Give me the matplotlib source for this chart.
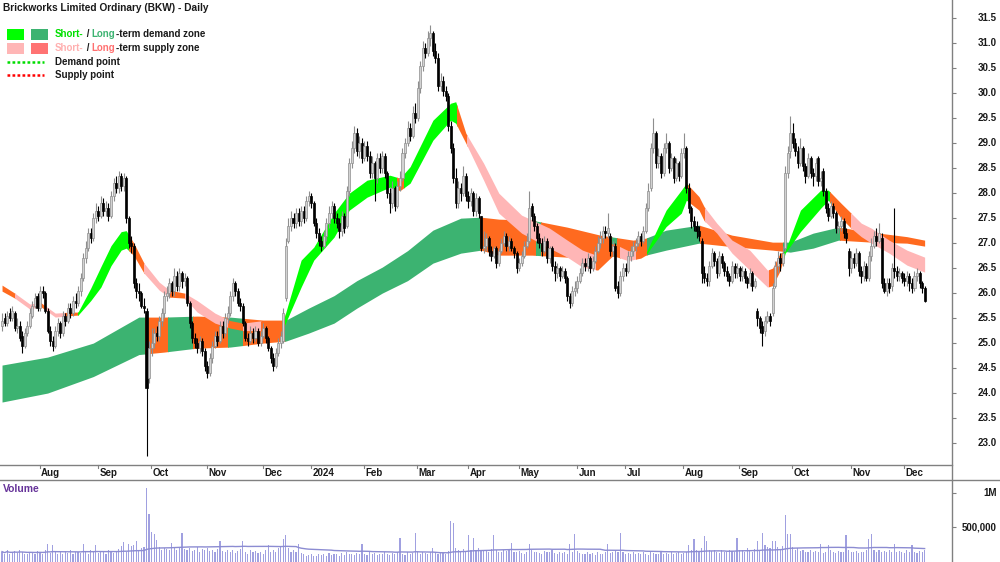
import numpy as np
import pandas as pd
import matplotlib
matplotlib.use("Agg")
import matplotlib.pyplot as plt
from matplotlib import transforms
from matplotlib.patches import Rectangle
from matplotlib.lines import Line2D

plt.rcParams['font.family'] = ['Liberation Sans', 'DejaVu Sans']

# ---------------- data ----------------
title = "Brickworks Limited Ordinary (BKW) - Daily"
start_date = "2023-07-11"
asx_holidays = ["2023-12-25", "2023-12-26", "2024-01-01", "2024-01-26",
                "2024-03-29", "2024-04-01", "2024-04-25", "2024-06-10"]

opens = [
    25.35, 25.50, 25.40, 25.60, 25.50, 25.60, 25.30, 25.35, 25.15, 24.95,
    25.20, 25.35, 25.55, 25.75, 25.95, 25.70, 26.05, 26.00, 25.65, 25.25,
    25.05, 24.95, 25.25, 25.40, 25.20, 25.55, 25.45, 25.70, 25.60, 25.85,
    25.80, 26.05, 26.30, 26.70, 26.90, 27.20, 27.10, 27.50, 27.65, 27.55,
    27.80, 27.65, 27.70, 27.55, 27.95, 28.20, 28.10, 28.35, 28.15, 28.30,
    27.50, 27.00, 26.95, 26.20, 26.05, 26.00, 25.75, 25.65, 24.30, 24.90,
    25.00, 25.20, 25.15, 25.45, 25.60, 25.95, 26.00, 26.20, 26.05, 26.35,
    26.15, 26.40, 26.25, 26.30, 25.80, 25.40, 25.10, 25.00, 24.90, 25.05,
    24.85, 24.55, 24.40, 24.70, 24.95, 25.15, 25.05, 25.35, 25.20, 25.50,
    25.60, 25.95, 26.20, 26.05, 25.80, 25.75, 25.40, 25.10, 25.05, 25.20,
    25.10, 25.25, 25.00, 25.15, 25.30, 25.10, 24.90, 24.70, 24.55, 24.80,
    25.00, 25.05, 25.90, 27.05, 27.35, 27.50, 27.40, 27.60, 27.45, 27.65,
    27.50, 27.85, 27.95, 27.80, 27.40, 27.20, 27.05, 26.95, 27.15, 27.40,
    27.60, 27.75, 27.50, 27.40, 27.25, 27.55, 27.35, 28.05, 28.60, 28.90,
    29.20, 28.85, 29.00, 28.70, 28.95, 28.75, 28.40, 28.60, 28.30, 28.70,
    28.50, 28.75, 28.40, 28.00, 27.80, 28.10, 27.75, 28.15, 28.30, 28.80,
    29.00, 29.30, 29.15, 29.60, 29.50, 30.10, 30.55, 30.90, 30.80, 31.10,
    31.20, 30.85, 30.70, 30.15, 30.25, 30.05, 29.95, 29.35, 28.90, 28.30,
    27.80, 28.10, 28.00, 28.35, 27.95, 27.85, 28.00, 27.65, 27.90, 27.55,
    26.90, 26.95, 27.10, 26.85, 26.75, 26.90, 26.60, 26.85, 27.00, 27.15,
    26.95, 27.05, 26.90, 26.80, 26.50, 26.60, 26.75, 26.95, 27.05, 27.75,
    27.55, 27.35, 27.10, 27.00, 26.85, 27.05, 26.70, 26.90, 26.55, 26.40,
    26.50, 26.35, 26.45, 26.30, 25.95, 25.80, 26.05, 26.10, 26.25, 26.40,
    26.60, 26.55, 26.70, 26.50, 26.65, 26.85, 27.00, 27.10, 27.25, 27.20,
    27.15, 26.85, 26.95, 26.15, 26.00, 26.35, 26.50, 26.45, 26.75, 26.85,
    26.95, 27.00, 27.15, 27.05, 27.25, 27.70, 28.10, 28.90, 29.20, 28.60,
    28.75, 28.40, 28.90, 29.00, 28.50, 28.70, 28.30, 28.60, 28.35, 28.80,
    28.90, 28.10, 27.70, 27.45, 27.35, 27.25, 27.05, 26.40, 26.30, 26.25,
    26.55, 26.80, 26.65, 26.40, 26.75, 26.60, 26.45, 26.35, 26.25, 26.55,
    26.40, 26.50, 26.35, 26.45, 26.30, 26.20, 26.40, 26.15, 25.65, 25.50,
    25.35, 25.25, 25.45, 25.55, 25.60, 26.15, 26.55, 26.70, 26.60, 26.90,
    28.40, 28.85, 29.20, 29.00, 28.85, 28.60, 28.90, 28.55, 28.35, 28.70,
    28.40, 28.35, 28.70, 28.25, 28.45, 28.05, 27.70, 27.55, 27.75, 27.60,
    27.30, 27.35, 27.45, 27.20, 26.85, 26.50, 26.70, 26.60, 26.80, 26.45,
    26.35, 26.55, 26.30, 26.75, 26.95, 27.15, 27.05, 27.10, 26.20, 26.05,
    26.20, 26.15, 26.50, 26.45, 26.35, 26.40, 26.30, 26.25, 26.35, 26.20,
    26.10, 26.35, 26.40, 26.20, 26.10,
]
highs = [
    25.60, 25.60, 25.65, 25.70, 25.75, 25.65, 25.50, 25.45, 25.25, 25.30,
    25.45, 25.70, 25.85, 26.00, 26.00, 26.15, 26.15, 26.05, 25.70, 25.35,
    25.15, 25.35, 25.50, 25.45, 25.65, 25.60, 25.80, 25.80, 25.95, 26.00,
    26.15, 26.40, 26.80, 27.05, 27.30, 27.30, 27.60, 27.80, 27.75, 27.95,
    27.90, 27.85, 27.80, 28.05, 28.30, 28.35, 28.45, 28.40, 28.40, 28.35,
    27.55, 27.15, 27.00, 26.30, 26.20, 26.05, 25.90, 25.70, 25.05, 25.30,
    25.30, 25.35, 25.55, 25.70, 26.05, 26.15, 26.30, 26.25, 26.50, 26.45,
    26.50, 26.45, 26.40, 26.35, 25.85, 25.45, 25.20, 25.10, 25.15, 25.10,
    24.90, 24.65, 24.80, 25.05, 25.25, 25.25, 25.45, 25.45, 25.60, 25.75,
    26.05, 26.30, 26.25, 26.10, 25.90, 25.80, 25.45, 25.20, 25.35, 25.30,
    25.35, 25.30, 25.25, 25.40, 25.35, 25.15, 24.95, 24.80, 24.90, 25.10,
    25.25, 25.70, 27.10, 27.50, 27.65, 27.60, 27.70, 27.70, 27.75, 27.75,
    27.95, 28.05, 28.00, 27.85, 27.50, 27.30, 27.15, 27.25, 27.50, 27.75,
    27.85, 27.80, 27.60, 27.50, 27.65, 27.60, 28.15, 28.70, 29.05, 29.35,
    29.30, 29.15, 29.10, 29.05, 29.05, 28.85, 28.75, 28.65, 28.80, 28.80,
    28.85, 28.80, 28.45, 28.10, 28.25, 28.15, 28.25, 28.45, 28.90, 29.10,
    29.45, 29.40, 29.75, 29.80, 30.25, 30.65, 31.05, 31.00, 31.25, 31.37,
    31.25, 31.00, 30.80, 30.40, 30.35, 30.15, 30.00, 29.45, 29.00, 28.50,
    28.25, 28.20, 28.55, 28.40, 28.05, 28.10, 28.05, 28.00, 27.95, 27.55,
    27.25, 27.20, 27.15, 26.95, 26.95, 26.95, 26.90, 27.10, 27.25, 27.20,
    27.15, 27.10, 26.95, 26.85, 26.70, 26.85, 27.05, 27.20, 28.05, 27.80,
    27.60, 27.40, 27.20, 27.10, 27.15, 27.10, 26.95, 26.95, 26.65, 26.60,
    26.55, 26.55, 26.50, 26.35, 26.00, 26.15, 26.25, 26.35, 26.50, 26.70,
    26.70, 26.80, 26.75, 26.75, 26.95, 27.15, 27.25, 27.35, 27.35, 27.60,
    27.20, 27.05, 27.00, 26.25, 26.45, 26.60, 26.60, 26.85, 26.95, 27.05,
    27.10, 27.25, 27.20, 27.35, 27.80, 28.20, 29.00, 29.50, 29.25, 28.90,
    28.80, 29.00, 29.20, 29.05, 28.80, 28.75, 28.70, 28.65, 28.90, 29.20,
    28.95, 28.20, 27.75, 27.55, 27.45, 27.35, 27.10, 26.55, 26.40, 26.65,
    26.90, 26.85, 26.70, 26.85, 26.80, 26.65, 26.55, 26.40, 26.65, 26.60,
    26.60, 26.55, 26.55, 26.50, 26.35, 26.50, 26.45, 26.30, 25.70, 25.55,
    25.45, 25.55, 25.65, 25.60, 26.20, 26.65, 26.85, 26.80, 26.95, 28.55,
    28.95, 29.55, 29.40, 29.10, 28.95, 29.10, 28.95, 28.60, 28.80, 28.75,
    28.50, 28.70, 28.75, 28.45, 28.50, 28.10, 27.80, 27.85, 27.80, 27.65,
    27.45, 27.55, 27.50, 27.30, 26.90, 26.85, 26.80, 26.90, 26.85, 26.55,
    26.65, 26.60, 26.85, 27.10, 27.25, 27.30, 27.40, 27.20, 26.30, 26.30,
    26.30, 26.60, 27.70, 26.55, 26.50, 26.45, 26.40, 26.45, 26.40, 26.30,
    26.45, 26.50, 26.45, 26.25, 26.15,
]
lows = [
    25.25, 25.35, 25.35, 25.45, 25.45, 25.25, 25.20, 25.05, 24.80, 24.90,
    25.15, 25.30, 25.50, 25.70, 25.65, 25.65, 25.90, 25.60, 25.20, 24.95,
    24.85, 24.90, 25.15, 25.10, 25.15, 25.35, 25.40, 25.50, 25.55, 25.70,
    25.75, 25.95, 26.25, 26.60, 26.85, 27.00, 27.05, 27.40, 27.45, 27.50,
    27.55, 27.55, 27.45, 27.50, 27.85, 28.00, 28.00, 28.05, 28.05, 27.40,
    26.90, 26.80, 26.10, 25.90, 25.85, 25.70, 25.60, 22.75, 24.20, 24.75,
    24.90, 25.05, 25.05, 25.35, 25.50, 25.85, 25.90, 25.95, 25.95, 26.05,
    26.05, 26.10, 26.15, 25.75, 25.30, 25.00, 24.90, 24.80, 24.80, 24.75,
    24.45, 24.30, 24.35, 24.60, 24.90, 24.95, 25.00, 25.10, 25.15, 25.40,
    25.55, 25.85, 25.95, 25.75, 25.65, 25.35, 25.05, 24.95, 25.00, 25.00,
    25.05, 24.95, 24.95, 25.10, 25.00, 24.85, 24.60, 24.45, 24.50, 24.75,
    24.90, 25.00, 25.85, 27.00, 27.25, 27.30, 27.30, 27.35, 27.35, 27.40,
    27.45, 27.75, 27.70, 27.35, 27.10, 26.95, 26.85, 26.90, 27.05, 27.30,
    27.50, 27.40, 27.30, 27.10, 27.15, 27.20, 27.30, 27.95, 28.50, 28.80,
    28.75, 28.70, 28.60, 28.65, 28.65, 28.30, 28.30, 27.85, 28.20, 28.40,
    28.40, 28.30, 27.90, 27.60, 27.70, 27.65, 27.70, 28.05, 28.25, 28.70,
    28.95, 29.05, 29.10, 29.40, 29.45, 30.00, 30.45, 30.70, 30.75, 30.95,
    30.75, 30.60, 30.05, 30.05, 29.95, 29.85, 29.25, 28.80, 28.20, 27.70,
    27.70, 27.85, 27.95, 27.85, 27.70, 27.75, 27.55, 27.55, 27.50, 26.85,
    26.80, 26.85, 26.75, 26.65, 26.70, 26.50, 26.55, 26.80, 26.95, 26.85,
    26.85, 26.85, 26.70, 26.40, 26.45, 26.55, 26.70, 26.90, 27.00, 27.45,
    27.25, 27.00, 26.90, 26.75, 26.80, 26.60, 26.60, 26.45, 26.25, 26.30,
    26.25, 26.30, 26.20, 25.85, 25.70, 25.75, 25.95, 26.00, 26.20, 26.35,
    26.45, 26.45, 26.40, 26.45, 26.60, 26.80, 26.90, 27.00, 27.10, 27.10,
    26.75, 26.75, 26.05, 25.90, 25.95, 26.25, 26.35, 26.40, 26.65, 26.75,
    26.85, 26.95, 26.95, 27.00, 27.20, 27.65, 28.05, 28.80, 28.50, 28.50,
    28.30, 28.35, 28.80, 28.40, 28.45, 28.20, 28.25, 28.25, 28.30, 28.70,
    28.00, 27.60, 27.30, 27.25, 27.10, 27.05, 26.20, 26.20, 26.15, 26.15,
    26.50, 26.55, 26.30, 26.35, 26.50, 26.35, 26.25, 26.15, 26.20, 26.30,
    26.30, 26.25, 26.25, 26.20, 26.10, 26.15, 26.05, 26.10, 25.35, 25.20,
    24.95, 25.15, 25.40, 25.35, 25.55, 26.10, 26.40, 26.45, 26.55, 26.85,
    28.30, 28.70, 28.90, 28.75, 28.50, 28.55, 28.45, 28.20, 28.30, 28.30,
    28.15, 28.25, 28.15, 28.15, 27.95, 27.60, 27.45, 27.50, 27.50, 27.20,
    27.20, 27.25, 27.10, 27.00, 26.35, 26.40, 26.50, 26.55, 26.35, 26.20,
    26.25, 26.25, 26.25, 26.65, 26.90, 26.95, 27.00, 26.10, 26.00, 25.95,
    26.00, 26.05, 26.30, 26.25, 26.25, 26.20, 26.15, 26.15, 26.05, 26.00,
    26.05, 26.25, 26.10, 26.00, 25.82,
]
closes = [
    25.45, 25.40, 25.55, 25.50, 25.65, 25.30, 25.35, 25.10, 24.95, 25.20,
    25.35, 25.60, 25.75, 25.90, 25.70, 26.05, 26.00, 25.65, 25.25, 25.05,
    24.95, 25.25, 25.40, 25.20, 25.55, 25.45, 25.70, 25.60, 25.85, 25.80,
    26.05, 26.30, 26.70, 26.90, 27.20, 27.10, 27.50, 27.65, 27.55, 27.80,
    27.65, 27.70, 27.55, 27.95, 28.20, 28.10, 28.35, 28.15, 28.30, 27.50,
    27.00, 26.95, 26.20, 26.05, 26.00, 25.75, 25.70, 24.10, 24.90, 25.00,
    25.20, 25.15, 25.45, 25.60, 25.95, 26.00, 26.20, 26.05, 26.35, 26.15,
    26.40, 26.25, 26.30, 25.80, 25.40, 25.10, 25.00, 24.90, 25.05, 24.85,
    24.55, 24.40, 24.70, 24.95, 25.15, 25.05, 25.35, 25.20, 25.50, 25.60,
    25.95, 26.20, 26.05, 25.80, 25.75, 25.40, 25.10, 25.05, 25.20, 25.10,
    25.25, 25.00, 25.15, 25.30, 25.10, 24.90, 24.70, 24.55, 24.80, 25.00,
    25.15, 25.60, 26.95, 27.35, 27.50, 27.40, 27.60, 27.45, 27.65, 27.50,
    27.85, 27.95, 27.80, 27.40, 27.20, 27.05, 26.95, 27.15, 27.40, 27.60,
    27.75, 27.50, 27.40, 27.25, 27.55, 27.30, 28.05, 28.60, 28.90, 29.20,
    28.85, 29.00, 28.70, 28.95, 28.75, 28.40, 28.60, 28.30, 28.70, 28.50,
    28.75, 28.40, 28.00, 27.80, 28.10, 27.75, 28.15, 28.30, 28.80, 29.00,
    29.30, 29.15, 29.60, 29.50, 30.10, 30.55, 30.90, 30.80, 31.10, 31.20,
    30.85, 30.70, 30.15, 30.25, 30.05, 29.95, 29.35, 28.90, 28.30, 27.80,
    28.10, 28.00, 28.35, 27.95, 27.85, 28.00, 27.65, 27.90, 27.60, 26.90,
    26.95, 27.10, 26.85, 26.75, 26.90, 26.60, 26.85, 27.00, 27.15, 26.95,
    27.05, 26.90, 26.80, 26.50, 26.60, 26.75, 26.95, 27.05, 27.70, 27.55,
    27.35, 27.10, 27.00, 26.85, 27.05, 26.70, 26.90, 26.55, 26.40, 26.50,
    26.35, 26.45, 26.30, 25.95, 25.80, 26.05, 26.10, 26.25, 26.40, 26.60,
    26.55, 26.70, 26.50, 26.65, 26.85, 27.00, 27.10, 27.25, 27.20, 27.30,
    26.85, 26.95, 26.10, 26.00, 26.35, 26.50, 26.45, 26.75, 26.85, 26.95,
    27.00, 27.15, 27.05, 27.25, 27.70, 28.05, 28.90, 29.20, 28.60, 28.75,
    28.40, 28.90, 29.00, 28.50, 28.70, 28.30, 28.60, 28.35, 28.80, 28.90,
    28.10, 27.70, 27.45, 27.35, 27.25, 27.15, 26.40, 26.30, 26.25, 26.55,
    26.80, 26.65, 26.40, 26.75, 26.60, 26.45, 26.35, 26.25, 26.55, 26.40,
    26.50, 26.35, 26.45, 26.30, 26.20, 26.40, 26.15, 26.25, 25.50, 25.30,
    25.20, 25.45, 25.55, 25.45, 26.10, 26.55, 26.70, 26.60, 26.80, 28.40,
    28.80, 29.20, 29.00, 28.85, 28.60, 28.90, 28.55, 28.35, 28.70, 28.40,
    28.35, 28.60, 28.25, 28.30, 28.05, 27.70, 27.55, 27.75, 27.60, 27.30,
    27.35, 27.45, 27.20, 27.10, 26.50, 26.70, 26.60, 26.80, 26.45, 26.35,
    26.55, 26.30, 26.75, 26.95, 27.15, 27.05, 27.20, 26.20, 26.05, 26.20,
    26.10, 26.50, 26.45, 26.35, 26.40, 26.30, 26.25, 26.35, 26.20, 26.10,
    26.35, 26.40, 26.20, 26.10, 25.85,
]
volume_k = [
    150, 120, 180, 110, 140, 160, 130, 170, 140, 120,
    110, 150, 130, 120, 160, 140, 120, 180, 260, 130,
    240, 150, 120, 140, 110, 160, 130, 170, 120, 140,
    150, 130, 260, 140, 120, 170, 150, 240, 130, 160,
    140, 120, 180, 150, 130, 160, 190, 230, 293, 150,
    260, 230, 250, 300, 180, 200, 220, 1070, 700, 440,
    400, 320, 210, 180, 200, 190, 170, 270, 200, 180,
    210, 418, 190, 170, 200, 160, 180, 210, 150, 190,
    170, 200, 160, 180, 150, 190, 300, 160, 140, 180,
    150, 170, 130, 160, 190, 300, 150, 120, 170, 140,
    160, 130, 150, 110, 170, 250, 140, 180, 150, 200,
    230, 332, 390, 200, 150, 170, 140, 260, 130, 110,
    90, 100, 120, 80, 90, 110, 100, 120, 90, 130,
    100, 120, 110, 90, 130, 100, 140, 120, 110, 100,
    130, 110, 260, 120, 100, 140, 110, 130, 100, 120,
    110, 140, 120, 100, 130, 110, 150, 340, 120, 100,
    140, 120, 130, 418, 150, 120, 140, 130, 110, 150,
    200, 140, 120, 150, 130, 110, 160, 597, 560, 200,
    170, 150, 190, 140, 390, 180, 340, 160, 200, 170,
    180, 160, 150, 190, 390, 170, 150, 140, 180, 160,
    170, 270, 150, 140, 160, 130, 120, 150, 260, 170,
    150, 140, 130, 120, 160, 140, 150, 170, 130, 120,
    140, 130, 150, 120, 260, 140, 400, 160, 130, 120,
    110, 140, 120, 130, 100, 150, 120, 110, 140, 260,
    130, 150, 170, 140, 420, 150, 120, 130, 110, 140,
    120, 130, 110, 140, 120, 100, 150, 130, 120, 110,
    140, 120, 130, 110, 150, 120, 130, 140, 110, 130,
    150, 250, 170, 330, 180, 160, 200, 370, 300, 170,
    160, 180, 150, 130, 170, 150, 140, 180, 160, 150,
    340, 170, 180, 140, 200, 160, 150, 190, 300, 180,
    420, 240, 220, 200, 300, 300, 210, 180, 230, 680,
    400, 400, 220, 180, 200, 160, 170, 150, 140, 170,
    150, 160, 140, 260, 130, 150, 240, 170, 140, 130,
    160, 150, 140, 390, 170, 140, 150, 160, 130, 150,
    140, 170, 330, 400, 180, 150, 170, 140, 160, 150,
    170, 150, 260, 140, 160, 150, 130, 170, 140, 240,
    150, 130, 160, 140, 170,
]

# short-term zone (knots: bar index, upper, lower)
st_idx = [0, 5, 11, 15, 21, 27, 30, 35, 39, 43, 47, 49, 52, 56, 62, 66, 72, 77, 84,
          90, 95, 103, 111, 118, 123, 131, 137, 144, 153, 157, 161, 170, 177, 179,
          183, 190, 196, 205, 216, 223, 229, 235, 241, 247, 252, 254, 262, 268,
          270, 275, 277, 282, 288, 295, 302, 304, 307, 309, 315, 323, 326, 331,
          335, 339, 343, 350, 357, 364]
st_upper = [26.16, 26.00, 25.78, 25.82, 25.60, 25.62, 25.62, 26.10, 26.53, 26.95,
            27.23, 27.25, 27.00, 26.60, 26.22, 26.06, 26.00, 25.85, 25.60, 25.45,
            25.40, 25.45, 25.45, 26.66, 26.92, 27.60, 28.00, 28.26, 28.36, 28.30,
            28.53, 29.46, 29.80, 29.83, 29.20, 28.60, 28.00, 27.56, 27.30, 27.06,
            26.86, 26.75, 27.00, 26.85, 26.85, 26.80, 27.66, 28.06, 28.20, 27.93,
            27.73, 27.40, 27.06, 26.86, 26.46, 26.50, 26.80, 26.85, 27.66, 28.06,
            28.06, 27.80, 27.60, 27.40, 27.30, 27.06, 26.86, 26.72]
st_lower = [26.04, 25.90, 25.68, 25.74, 25.52, 25.55, 25.56, 25.85, 26.12, 26.55,
            26.86, 26.90, 26.75, 26.40, 26.06, 25.92, 25.90, 25.62, 25.40, 25.30,
            25.25, 25.25, 25.30, 26.12, 26.66, 27.12, 27.66, 27.92, 28.12, 28.05,
            28.20, 29.06, 29.46, 29.40, 29.00, 28.26, 27.60, 27.20, 26.90, 26.72,
            26.52, 26.46, 26.75, 26.65, 26.70, 26.76, 27.33, 27.60, 27.86, 27.66,
            27.45, 27.20, 26.80, 26.46, 26.12, 26.15, 26.45, 26.80, 27.23, 27.70,
            27.86, 27.50, 27.30, 27.13, 27.00, 26.80, 26.56, 26.42]
st_zone_start = [-1, 5, 13, 17.5, 25, 30, 50, 56, 66, 72, 89, 95, 102, 111.5, 156,
                 158.5, 179.5, 183.5, 234.5, 244, 250, 254.5, 270.5, 277.5, 302.5,
                 308.5, 326.5, 335]
st_zone_kind = ["turn", "supply", "turn", "supply", "turn", "demand", "turn", "supply",
                "turn", "supply", "turn", "supply", "turn", "demand", "turn", "demand",
                "turn", "supply", "turn", "supply", "turn", "demand", "turn", "supply",
                "turn", "demand", "turn", "supply"]

# long-term zone
lt_idx = [0, 18, 36, 54, 64, 77, 90, 103, 112, 121, 131, 140, 150, 160, 170, 181,
          189, 196, 209, 223, 236, 249, 254, 262, 275, 288, 304, 311, 320, 330,
          343, 357, 364]
lt_upper = [24.56, 24.72, 25.00, 25.52, 25.52, 25.54, 25.52, 25.46, 25.46, 25.70,
            25.95, 26.25, 26.52, 26.85, 27.26, 27.50, 27.52, 27.48, 27.46, 27.32,
            27.16, 27.06, 27.10, 27.26, 27.36, 27.16, 27.02, 27.02, 27.20, 27.32,
            27.22, 27.13, 27.06]
lt_lower = [23.82, 24.00, 24.33, 24.77, 24.82, 24.90, 24.92, 25.00, 25.04, 25.20,
            25.40, 25.70, 26.00, 26.25, 26.60, 26.80, 26.86, 26.76, 26.76, 26.72,
            26.74, 26.74, 26.76, 26.86, 27.00, 26.93, 26.86, 26.82, 26.90, 27.06,
            27.02, 27.00, 26.94]
lt_zone_start = [-1, 56.5, 65.5, 75.5, 89, 95, 111.5, 188.5, 210.5, 212.5, 240.5,
                 242.5, 254.5, 275.5, 308, 330.5]
lt_zone_kind = ["demand", "supply", "demand", "supply", "demand", "supply", "demand",
                "supply", "demand", "supply", "demand", "supply", "demand", "supply",
                "demand", "supply"]

price_ticks = [23.0, 23.5, 24.0, 24.5, 25.0, 25.5, 26.0, 26.5, 27.0, 27.5,
               28.0, 28.5, 29.0, 29.5, 30.0, 30.5, 31.0, 31.5]
vol_ticks = [500000, 1000000]
vol_tick_labels = ["500,000", "1M"]

# ---------------- styling ----------------
W, H = 1000, 562
C_ST = {"demand": "#00FF00", "supply": "#FFB6B6", "turn": "#FF6A1F"}
C_LT = {"demand": "#3CB371", "supply": "#FF6A1F"}
GRID = "#808080"
TXT = "#1A1A1A"

dates = pd.bdate_range(start_date, periods=len(closes), freq="C",
                       holidays=asx_holidays)
o = np.array(opens); h = np.array(highs); l = np.array(lows); c = np.array(closes)
v = np.array(volume_k) * 1000.0
x = np.arange(len(c))

fig = plt.figure(figsize=(W / 100, H / 100), dpi=100)
ax = fig.add_axes([0, 1 - 465 / H, 952 / W, 465 / H])
axv = fig.add_axes([0, 0, 952 / W, 82 / H])

xlim = (-0.8, 374.8)
for a in (ax, axv):
    a.set_xlim(*xlim)
    for s in a.spines.values():
        s.set_visible(False)
    a.set_xticks([])
    a.tick_params(axis="y", left=False, right=True, direction="out", length=3,
                  color=GRID, labelleft=False, labelright=False)
ax.set_ylim(22.56, 31.866)
axv.set_ylim(0, 1.185e6)
ax.set_yticks(price_ticks)
axv.set_yticks(vol_ticks)


def draw_zone(knots, up, lo, starts, kinds, cmap, z):
    ends = list(starts[1:]) + [xlim[1] + 1]
    for s0, s1, k in zip(starts, ends, kinds):
        poly = ax.fill_between(knots, lo, up, color=cmap[k], lw=0, zorder=z)
        clip = Rectangle((s0, 0), s1 - s0, 100, transform=ax.transData)
        poly.set_clip_path(clip)


draw_zone(lt_idx, lt_upper, lt_lower, lt_zone_start, lt_zone_kind, C_LT, 1)
draw_zone(st_idx, st_upper, st_lower, st_zone_start, st_zone_kind, C_ST, 2)

# candles
up = c >= o
wick_col = np.where(up, "#8E8E8E", "#000000")
face_col = np.where(up, "#D2D2D2", "#000000")
ax.vlines(x, l, h, colors=wick_col, lw=0.8, zorder=3)
body_lo = np.minimum(o, c)
body_h = np.maximum(np.abs(c - o), 0.025)
ax.bar(x, body_h, bottom=body_lo, width=0.8, color=face_col,
       edgecolor=wick_col, lw=0.5, zorder=4)

# volume
axv.bar(x, v, width=0.45, color="#A0A0E0", lw=0, zorder=2)
vol_ma = pd.Series(v).rolling(60, min_periods=1).mean()
axv.plot(x, vol_ma, color="#8C8CD2", lw=1.0, zorder=3)

# frame lines
fig.add_artist(Line2D([952 / W, 952 / W], [0, 1], transform=fig.transFigure,
                      color=GRID, lw=1))
fig.add_artist(Line2D([0, 952 / W], [1 - 465 / H] * 2, transform=fig.transFigure,
                      color=GRID, lw=1))
fig.add_artist(Line2D([0, 1], [1 - 480 / H] * 2, transform=fig.transFigure,
                      color=GRID, lw=1))

# right tick labels
tr_p = transforms.blended_transform_factory(fig.transFigure, ax.transData)
for p in price_ticks:
    fig.text(0.997, p, f"{p:.1f}", transform=tr_p, ha="right", va="center",
             fontsize=7, weight="bold", color=TXT)
tr_v = transforms.blended_transform_factory(fig.transFigure, axv.transData)
for val, lab in zip(vol_ticks, vol_tick_labels):
    fig.text(0.997, val, lab, transform=tr_v, ha="right", va="center",
             fontsize=7, weight="bold", color=TXT)

# month labels in the date strip
tr_m = transforms.blended_transform_factory(ax.transData, fig.transFigure)
for i in range(1, len(dates)):
    if dates[i].month != dates[i - 1].month:
        lab = str(dates[i].year) if dates[i].month == 1 else dates[i].strftime("%b")
        fig.add_artist(Line2D([i - 0.2, i - 0.2], [1 - 465 / H, 1 - 468 / H],
                              transform=tr_m, color=GRID, lw=0.8))
        fig.text(i + 0.4, 1 - 473.5 / H, lab, transform=tr_m, ha="left",
                 va="center", fontsize=7, weight="bold", color=TXT)

# title and legend
fig.text(3 / W, 1 - 8 / H, title, ha="left", va="center", fontsize=7.3,
         weight="bold", color=TXT)

fig.canvas.draw()
renderer = fig.canvas.get_renderer()


def multi_text(x0, y0, parts):
    xp = x0
    for s, col in parts:
        t = fig.text(xp / W, 1 - y0 / H, s, ha="left", va="center", fontsize=7,
                     weight="bold", color=col)
        bb = t.get_window_extent(renderer)
        xp += bb.width


def swatch(x0, y0, col):
    fig.add_artist(Rectangle((x0 / W, 1 - (y0 + 5.5) / H), 17 / W, 11 / H,
                             transform=fig.transFigure, color=col, lw=0))


swatch(7, 34, C_ST["demand"]); swatch(31, 34, C_LT["demand"])
swatch(7, 48, "#FFB6B6"); swatch(31, 48, "#FF7373")
multi_text(55, 34, [("Short-", "#00E000"), (" / ", TXT), ("Long", "#3CB371"),
                    ("-term demand zone", TXT)])
multi_text(55, 48, [("Short-", "#FFB0B0"), (" / ", TXT), ("Long", "#FF7070"),
                    ("-term supply zone", TXT)])
fig.add_artist(Line2D([7 / W, 44 / W], [1 - 62 / H] * 2, transform=fig.transFigure,
                      color="#00DD00", lw=1.8, linestyle=(0, (1.1, 0.9))))
fig.add_artist(Line2D([7 / W, 44 / W], [1 - 75 / H] * 2, transform=fig.transFigure,
                      color="#FF0000", lw=1.8, linestyle=(0, (1.1, 0.9))))
multi_text(55, 62, [("Demand point", TXT)])
multi_text(55, 75, [("Supply point", TXT)])

fig.text(3 / W, 1 - 489 / H, "Volume", ha="left", va="center", fontsize=7.5,
         weight="bold", color="#663399")

fig.savefig("out.png", dpi=100)
